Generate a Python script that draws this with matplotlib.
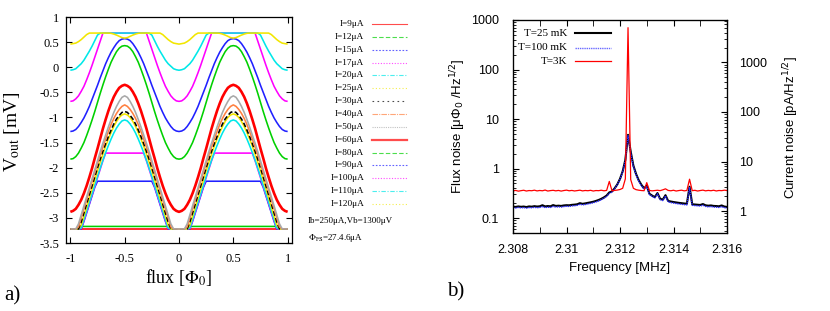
import numpy as np
import matplotlib
matplotlib.use('Agg')
import matplotlib.pyplot as plt
from matplotlib.lines import Line2D
from matplotlib.ticker import FixedLocator, FuncFormatter, LogLocator, NullFormatter, MultipleLocator

plt.rcParams['axes.unicode_minus'] = False

# ---------------- data: panel a (V-Phi curves, half period 0..0.5 Phi0) ----------------
currents_uA = [9, 12, 15, 17, 20, 25, 30, 40, 50, 60, 80, 90, 100, 110, 120]
flux_step = 0.025  # half-period sampling step (Phi0)

v_9uA = [-3.22, -3.22, -3.22, -3.22, -3.22, -3.22, -3.22, -3.22, -3.22, -3.22, -3.22,
         -3.22, -3.22, -3.22, -3.22, -3.22, -3.22, -3.22, -3.22, -3.22, -3.22]
v_12uA = [-3.22, -3.22, -3.22, -3.22, -3.17, -3.17, -3.17, -3.17, -3.17, -3.17, -3.17,
          -3.17, -3.17, -3.17, -3.17, -3.17, -3.17, -3.17, -3.17, -3.17, -3.17]
v_15uA = [-3.22, -3.22, -3.22, -3.22, -3.22, -3.07, -2.90, -2.73, -2.56, -2.39, -2.27,
          -2.27, -2.27, -2.27, -2.27, -2.27, -2.27, -2.27, -2.27, -2.27, -2.27]
v_17uA = [-3.22, -3.22, -3.22, -3.22, -3.21, -3.05, -2.88, -2.71, -2.54, -2.37, -2.20,
          -2.03, -1.86, -1.71, -1.71, -1.71, -1.71, -1.71, -1.71, -1.71, -1.71]
v_20uA = [-3.22, -3.22, -3.22, -3.22, -3.20, -3.03, -2.86, -2.69, -2.52, -2.35, -2.18,
          -2.01, -1.85, -1.70, -1.56, -1.43, -1.31, -1.21, -1.13, -1.07, -1.05]
v_25uA = [-3.22, -3.22, -3.22, -3.22, -3.14, -2.96, -2.78, -2.60, -2.42, -2.24, -2.06,
          -1.89, -1.73, -1.57, -1.43, -1.30, -1.18, -1.08, -1.00, -0.95, -0.93]
v_30uA = [-3.22, -3.22, -3.22, -3.22, -3.08, -2.90, -2.72, -2.54, -2.36, -2.18, -2.00,
          -1.83, -1.67, -1.52, -1.38, -1.25, -1.13, -1.03, -0.96, -0.90, -0.88]
v_40uA = [-3.22, -3.22, -3.22, -3.18, -3.00, -2.82, -2.64, -2.46, -2.28, -2.10, -1.92,
          -1.75, -1.59, -1.43, -1.28, -1.14, -1.02, -0.92, -0.84, -0.78, -0.75]
v_50uA = [-3.22, -3.22, -3.22, -3.12, -2.94, -2.76, -2.58, -2.40, -2.22, -2.04, -1.86,
          -1.68, -1.51, -1.35, -1.19, -1.04, -0.90, -0.78, -0.68, -0.60, -0.57]
v_60uA = [-2.88, -2.86, -2.82, -2.74, -2.64, -2.51, -2.36, -2.19, -2.01, -1.81, -1.62,
          -1.42, -1.22, -1.04, -0.87, -0.72, -0.59, -0.49, -0.41, -0.37, -0.35]
v_80uA = [-1.83, -1.82, -1.78, -1.71, -1.61, -1.50, -1.36, -1.21, -1.05, -0.88, -0.70,
          -0.52, -0.35, -0.19, -0.04, 0.10, 0.21, 0.31, 0.38, 0.42, 0.43]
v_90uA = [-1.28, -1.27, -1.24, -1.18, -1.10, -1.01, -0.90, -0.78, -0.64, -0.50, -0.36,
          -0.21, -0.07, 0.07, 0.19, 0.30, 0.39, 0.47, 0.53, 0.56, 0.57]
v_100uA = [-0.68, -0.67, -0.63, -0.57, -0.48, -0.38, -0.25, -0.11, 0.04, 0.20, 0.36,
           0.52, 0.68, 0.68, 0.68, 0.68, 0.68, 0.68, 0.68, 0.68, 0.68]
v_110uA = [-0.06, -0.05, -0.03, 0.02, 0.07, 0.14, 0.23, 0.32, 0.42, 0.53, 0.64,
           0.68, 0.68, 0.68, 0.68, 0.68, 0.68, 0.68, 0.68, 0.68, 0.68]
v_120uA = [0.46, 0.47, 0.48, 0.51, 0.55, 0.60, 0.65, 0.68, 0.68, 0.68, 0.68,
           0.68, 0.68, 0.68, 0.68, 0.675, 0.66, 0.64, 0.615, 0.59, 0.58]

curve_colors = ['#ff0000', '#00d000', '#2020ff', '#ff00ff', '#00e8e8', '#f2e600', '#000000',
                '#ff8040', '#a8a8a8', '#ff0000', '#00d000', '#2020ff', '#ff00ff', '#00e8e8', '#f2e600']
legend_styles = ['-', (0, (4, 2)), (0, (1.5, 1.5)), (0, (1, 1.5)), (0, (4, 1.5, 1, 1.5)),
                 (0, (1, 2)), (0, (1.5, 3)), (0, (5, 1, 1, 1)), (0, (1, 1)), '-',
                 (0, (4, 2)), (0, (1.5, 1.5)), (0, (1, 1.5)), (0, (4, 1.5, 1, 1.5)), (0, (1, 2))]

# ---------------- data: panel b (noise spectra) ----------------
freq_mhz = np.round(2.308 + 0.0001 * np.arange(81), 4)
noise_25mK = [0.170, 0.168, 0.172, 0.169, 0.171, 0.167, 0.172, 0.170, 0.174, 0.171,
              0.173, 0.182, 0.172, 0.175, 0.173, 0.183, 0.176, 0.178, 0.176, 0.180,
              0.182, 0.181, 0.185, 0.187, 0.190, 0.200, 0.194, 0.198, 0.203, 0.208,
              0.214, 0.222, 0.232, 0.245, 0.262, 0.285, 0.330, 0.345, 0.400, 0.480,
              0.620, 0.880, 1.500, 4.800, 2.200, 1.150, 0.780, 0.580, 0.470, 0.400,
              0.450, 0.310, 0.285, 0.265, 0.320, 0.245, 0.236, 0.290, 0.222, 0.216,
              0.211, 0.207, 0.203, 0.200, 0.197, 0.195, 0.430, 0.190, 0.188, 0.186,
              0.184, 0.192, 0.181, 0.178, 0.180, 0.176, 0.175, 0.173, 0.180, 0.171, 0.168]
noise_100mK = [0.162, 0.160, 0.164, 0.161, 0.163, 0.159, 0.163, 0.162, 0.165, 0.162,
               0.164, 0.170, 0.163, 0.166, 0.164, 0.172, 0.167, 0.169, 0.167, 0.171,
               0.173, 0.172, 0.176, 0.178, 0.181, 0.190, 0.185, 0.188, 0.193, 0.198,
               0.204, 0.212, 0.222, 0.235, 0.252, 0.275, 0.315, 0.335, 0.390, 0.470,
               0.600, 0.860, 1.450, 4.600, 2.100, 1.100, 0.750, 0.560, 0.450, 0.385,
               0.430, 0.300, 0.275, 0.255, 0.310, 0.236, 0.226, 0.280, 0.212, 0.206,
               0.201, 0.197, 0.193, 0.190, 0.187, 0.185, 0.410, 0.181, 0.179, 0.177,
               0.175, 0.182, 0.172, 0.169, 0.171, 0.167, 0.166, 0.164, 0.170, 0.162, 0.160]
noise_3K = [0.355, 0.362, 0.350, 0.358, 0.365, 0.352, 0.360, 0.357, 0.366, 0.354,
            0.361, 0.356, 0.368, 0.352, 0.359, 0.364, 0.355, 0.362, 0.351, 0.360,
            0.367, 0.356, 0.362, 0.353, 0.359, 0.366, 0.354, 0.361, 0.357, 0.364,
            0.352, 0.360, 0.358, 0.365, 0.356, 0.362, 0.550, 0.357, 0.362, 0.368,
            0.378, 0.400, 0.620, 700.0, 0.600, 0.400, 0.375, 0.366, 0.360, 0.357,
            0.520, 0.362, 0.355, 0.360, 0.365, 0.358, 0.372, 0.390, 0.362, 0.356,
            0.365, 0.352, 0.360, 0.366, 0.355, 0.361, 0.610, 0.358, 0.364, 0.352,
            0.360, 0.367, 0.355, 0.362, 0.357, 0.365, 0.353, 0.361, 0.358, 0.366, 0.360]
flux_to_current = 7.2  # pA per muPhi0 (right axis scale)

# ---------------- figure ----------------
W, H = 830, 311
fig = plt.figure(figsize=(W / 100, H / 100), dpi=100)
SERIF = 'Liberation Serif'
SANS = 'Liberation Sans'


def fx(px):
    return px / W


def fy(py):
    return 1 - py / H


# ---- panel a ----
ax1 = fig.add_axes([fx(66), fy(243), (292 - 66) / W, (243 - 17) / H])
flux = np.round(np.linspace(-1, 1, 81), 4)
dist = 0.5 - np.abs(0.5 - np.abs(flux))
idx = np.rint(dist / flux_step).astype(int)
half_curves = [v_9uA, v_12uA, v_15uA, v_17uA, v_20uA, v_25uA, v_30uA, v_40uA, v_50uA,
               v_60uA, v_80uA, v_90uA, v_100uA, v_110uA, v_120uA]
for cur, hv, col in zip(currents_uA, half_curves, curve_colors):
    lw = 1.9 if cur == 60 else 1.15
    ls = (0, (3, 1.5)) if cur == 30 else '-'
    ax1.plot(flux, np.asarray(hv)[idx], color=col, lw=lw, ls=ls, solid_capstyle='butt')
ax1.set_xlim(-1.04, 1.04)
ax1.set_ylim(-3.5, 1.0)
ax1.set_xticks([-1, -0.5, 0, 0.5, 1])
ax1.set_xticklabels(['-1', '-0.5', '0', '0.5', '1'])
ax1.set_yticks([1, 0.5, 0, -0.5, -1, -1.5, -2, -2.5, -3, -3.5])
ax1.set_yticklabels(['1', '0.5', '0', '-0.5', '-1', '-1.5', '-2', '-2.5', '-3', '-3.5'])
ax1.tick_params(direction='in', length=4, width=0.8, top=True, right=True,
                labelsize=9, pad=5)
ax1.tick_params(axis='x', pad=7)
for lab in ax1.get_xticklabels() + ax1.get_yticklabels():
    lab.set_fontfamily(SERIF)
for sp in ax1.spines.values():
    sp.set_linewidth(0.9)

fig.text(fx(12), fy(132), r'V$_{\rm out}$ [mV]', rotation=90, ha='center', va='center',
         fontsize=14, fontfamily=SERIF, math_fontfamily='stix')
fig.text(fx(179), fy(277), r'flux [$\Phi_0$]', ha='center', va='center',
         fontsize=13, fontfamily=SERIF, math_fontfamily='stix')
fig.text(fx(4), fy(296), 'a)', ha='left', va='center', fontsize=15, fontfamily=SERIF)

# legend of panel a
row0, drow = 24, 180 / 14
for k, (cur, col, ls) in enumerate(zip(currents_uA, curve_colors, legend_styles)):
    yy = row0 + k * drow
    fig.text(fx(364), fy(yy), 'I=%dμA' % cur, ha='right', va='center',
             fontsize=6.7, fontfamily=SERIF)
    fig.add_artist(Line2D([fx(372), fx(407)], [fy(yy), fy(yy)], color=col,
                          lw=1.6 if cur == 60 else 0.8, ls=ls, alpha=0.7))
fig.text(fx(308), fy(221), 'Ib=250μA,Vb=1300μV', ha='left', va='center',
         fontsize=6.5, fontfamily=SERIF)
fig.text(fx(308), fy(238), r'$\Phi_{\rm FS}$=27.4.6μA', ha='left', va='center',
         fontsize=6.5, fontfamily=SERIF, math_fontfamily='stix')

# ---- panel b ----
ax2 = fig.add_axes([fx(513), fy(233), (727 - 513) / W, (233 - 20) / H])
ax2.plot(freq_mhz, noise_25mK, color='black', lw=1.5, label='T=25 mK')
ax2.plot(freq_mhz, noise_100mK, color='#2a2aff', lw=1.0, ls=(0, (1, 0.6)), label='T=100 mK')
ax2.plot(freq_mhz, noise_3K, color='#ff0000', lw=0.9, label='T=3K')
ax2.set_yscale('log')
ax2.set_xlim(2.308, 2.316)
ax2.set_ylim(0.05, 1000)
ax2.xaxis.set_major_locator(MultipleLocator(0.002))
ax2.xaxis.set_minor_locator(MultipleLocator(0.001))
ax2.xaxis.set_major_formatter(FuncFormatter(lambda v, p: ('%.3f' % v).rstrip('0').rstrip('.')))
ax2.yaxis.set_major_locator(FixedLocator([0.1, 1, 10, 100, 1000]))
ax2.yaxis.set_major_formatter(FuncFormatter(lambda v, p: ('%g' % v)))
ax2.yaxis.set_minor_locator(LogLocator(base=10, subs=np.arange(2, 10), numticks=20))
ax2.yaxis.set_minor_formatter(NullFormatter())
ax2.tick_params(which='both', direction='in', top=True, right=False, labelsize=9)
ax2.tick_params(which='major', length=4, width=0.8)
ax2.tick_params(which='minor', length=2, width=0.6)
ax2.tick_params(axis='x', which='minor', length=4)
ax2.tick_params(axis='y', pad=10)
ax2.tick_params(axis='x', pad=8)
for lab in ax2.get_xticklabels() + ax2.get_yticklabels():
    lab.set_fontfamily(SANS)
for sp in ax2.spines.values():
    sp.set_linewidth(0.9)

ax3 = ax2.twinx()
ax3.set_yscale('log')
ax3.set_ylim(0.05 * flux_to_current, 1000 * flux_to_current)
ax3.yaxis.set_major_locator(FixedLocator([1, 10, 100, 1000]))
ax3.yaxis.set_major_formatter(FuncFormatter(lambda v, p: ('%g' % v)))
ax3.yaxis.set_minor_locator(LogLocator(base=10, subs=np.arange(2, 10), numticks=20))
ax3.yaxis.set_minor_formatter(NullFormatter())
ax3.tick_params(which='both', direction='in', labelsize=9, pad=9)
ax3.tick_params(which='major', length=4, width=0.8)
ax3.tick_params(which='minor', length=2, width=0.6)
for lab in ax3.get_yticklabels():
    lab.set_fontfamily(SANS)

fig.text(fx(458), fy(126), r'Flux noise [μΦ$_0$ /Hz$^{1/2}$]', rotation=90, ha='center',
         va='center', fontsize=9.5, fontfamily=SANS, math_fontfamily='dejavusans')
fig.text(fx(791), fy(128), r'Current noise [pA/Hz$^{1/2}$]', rotation=90, ha='center',
         va='center', fontsize=9.5, fontfamily=SANS, math_fontfamily='dejavusans')
fig.text(fx(620), fy(268), 'Frequency [MHz]', ha='center', va='center',
         fontsize=9.5, fontfamily=SANS)
fig.text(fx(447), fy(292), 'b)', ha='left', va='center', fontsize=15, fontfamily=SERIF)

# legend of panel b
leg_rows = [33, 48, 61]
leg_labels = ['T=25 mK', 'T=100 mK', 'T=3K']
leg_cols = ['black', '#6a6aff', '#ff0000']
leg_ls = ['-', (0, (1, 0.6)), '-']
leg_lw = [1.5, 1.0, 0.9]
for yy, lab, col, ls, lw in zip(leg_rows, leg_labels, leg_cols, leg_ls, leg_lw):
    fig.text(fx(567), fy(yy), lab, ha='right', va='center', fontsize=8, fontfamily=SERIF)
    fig.add_artist(Line2D([fx(575), fx(611)], [fy(yy), fy(yy)], color=col, lw=lw, ls=ls))

fig.savefig('out.png', dpi=100)
